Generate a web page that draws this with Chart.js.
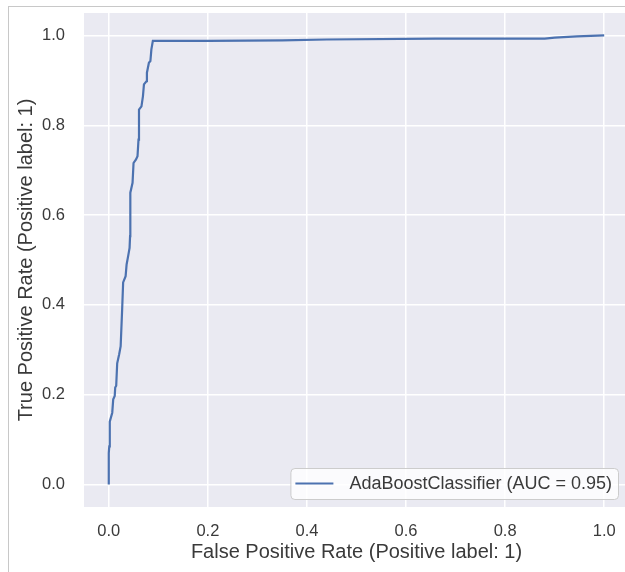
<!DOCTYPE html>
<html>
<head>
<meta charset="utf-8">
<script src="https://cdn.jsdelivr.net/npm/chart.js@4/dist/chart.umd.min.js"></script>
<style>
  html, body { margin: 0; padding: 0; background: #ffffff; overflow: hidden; width: 625px; height: 572px; }
  #wrap { position: absolute; left: 0; top: 0; width: 650px; height: 572px; }
  #frame { position: absolute; left: 8px; top: 6px; width: 700px; height: 700px; border-left: 1px solid #c8c8c8; border-top: 1px solid #c8c8c8; pointer-events: none; }
</style>
</head>
<body>
<div id="frame"></div>
<div id="wrap"><canvas id="c" width="650" height="572"></canvas></div>
<script>
// ROC curve
const fpr = [0, 0, 0.001, 0.002, 0.007, 0.009, 0.012, 0.013, 0.015, 0.017, 0.021, 0.024, 0.027, 0.029, 0.034, 0.036, 0.039, 0.042, 0.043, 0.043, 0.044, 0.048, 0.05, 0.055, 0.058, 0.06, 0.061, 0.066, 0.069, 0.071, 0.076, 0.077, 0.081, 0.084, 0.086, 0.089, 0.2, 0.35, 0.44, 0.66, 0.88, 0.90, 0.945, 1.0];
const tpr = [0, 0.07, 0.085, 0.14, 0.16, 0.19, 0.197, 0.216, 0.22, 0.27, 0.29, 0.308, 0.39, 0.45, 0.464, 0.49, 0.508, 0.527, 0.553, 0.598, 0.65, 0.672, 0.716, 0.724, 0.731, 0.768, 0.835, 0.842, 0.865, 0.891, 0.898, 0.917, 0.939, 0.943, 0.969, 0.988, 0.988, 0.989, 0.991, 0.993, 0.993, 0.995, 0.998, 1.0];
const seriesLabel = 'AdaBoostClassifier (AUC = 0.95)';
const xTicks = [0, 0.2, 0.4, 0.6, 0.8, 1.0];
const yTicks = [0, 0.2, 0.4, 0.6, 0.8, 1.0];
const xTitle = 'False Positive Rate (Positive label: 1)';
const yTitle = 'True Positive Rate (Positive label: 1)';

const points = fpr.map((x, i) => ({ x: x, y: tpr[i] }));
const FONT = 'Liberation Sans, Arial, sans-serif';
const TEXT = '#3a3a3a';

const bgPlugin = {
  id: 'bg',
  beforeDraw(chart) {
    const { ctx, chartArea: a } = chart;
    ctx.save();
    ctx.fillStyle = '#EAEAF2';
    ctx.fillRect(a.left, a.top, a.right - a.left, a.bottom - a.top);
    ctx.restore();
  }
};

const legendPlugin = {
  id: 'innerLegend',
  afterDraw(chart) {
    const { ctx, chartArea: a } = chart;
    const ds = chart.data.datasets[0];
    ctx.save();
    ctx.font = '18px ' + FONT;
    const tw = ctx.measureText(ds.label).width;
    const right = a.right - 11, bottom = a.bottom - 8;
    const h = 31, padL = 5, lineW = 38, gap = 16, padR = 6;
    const w = padL + lineW + gap + tw + padR;
    const left = right - w, top = bottom - h;
    ctx.beginPath();
    ctx.roundRect(left + 0.5, top + 0.5, w, h, 4);
    ctx.fillStyle = 'rgba(255,255,255,0.8)';
    ctx.fill();
    ctx.strokeStyle = '#cccccc';
    ctx.lineWidth = 1;
    ctx.stroke();
    const cy = top + h / 2;
    ctx.beginPath();
    ctx.moveTo(left + padL, cy);
    ctx.lineTo(left + padL + lineW, cy);
    ctx.strokeStyle = ds.borderColor;
    ctx.lineWidth = 2.2;
    ctx.stroke();
    ctx.fillStyle = TEXT;
    ctx.textBaseline = 'middle';
    ctx.textAlign = 'left';
    ctx.fillText(ds.label, left + padL + lineW + gap, cy + 1);
    ctx.restore();
  }
};

new Chart(document.getElementById('c'), {
  type: 'line',
  data: {
    datasets: [{
      label: seriesLabel,
      data: points,
      borderColor: '#4C72B0',
      borderWidth: 2.2,
      pointRadius: 0,
      tension: 0,
      fill: false
    }]
  },
  options: {
    responsive: false,
    animation: false,
    layout: { padding: { left: 0, top: 13, right: 21, bottom: 0 } },
    plugins: { legend: { display: false }, tooltip: { enabled: false } },
    scales: {
      x: {
        type: 'linear',
        min: -0.05, max: 1.05,
        afterBuildTicks: s => { s.ticks = xTicks.map(v => ({ value: v })); },
        afterFit: s => { s.height = 65; s.paddingLeft = 0; s.paddingRight = 0; },
        grid: { color: '#ffffff', lineWidth: 1.5, drawTicks: false },
        border: { display: false },
        ticks: { padding: 15, color: TEXT, font: { family: FONT, size: 16.5 }, callback: v => v.toFixed(1), maxRotation: 0 },
        title: { display: true, text: xTitle, color: TEXT, font: { family: FONT, size: 20 }, padding: { top: 0, bottom: 8 } }
      },
      y: {
        type: 'linear',
        min: -0.05, max: 1.05,
        afterBuildTicks: s => { s.ticks = yTicks.map(v => ({ value: v })); },
        afterFit: s => { s.width = 84; s.paddingTop = 0; s.paddingBottom = 0; },
        grid: { color: '#ffffff', lineWidth: 1.5, drawTicks: false },
        border: { display: false },
        ticks: { padding: 19, color: TEXT, font: { family: FONT, size: 16.5 }, callback: v => v.toFixed(1) },
        title: { display: true, text: yTitle, color: TEXT, font: { family: FONT, size: 20 }, padding: { top: 14, bottom: 0 } }
      }
    }
  },
  plugins: [bgPlugin, legendPlugin]
});
</script>
</body>
</html>
